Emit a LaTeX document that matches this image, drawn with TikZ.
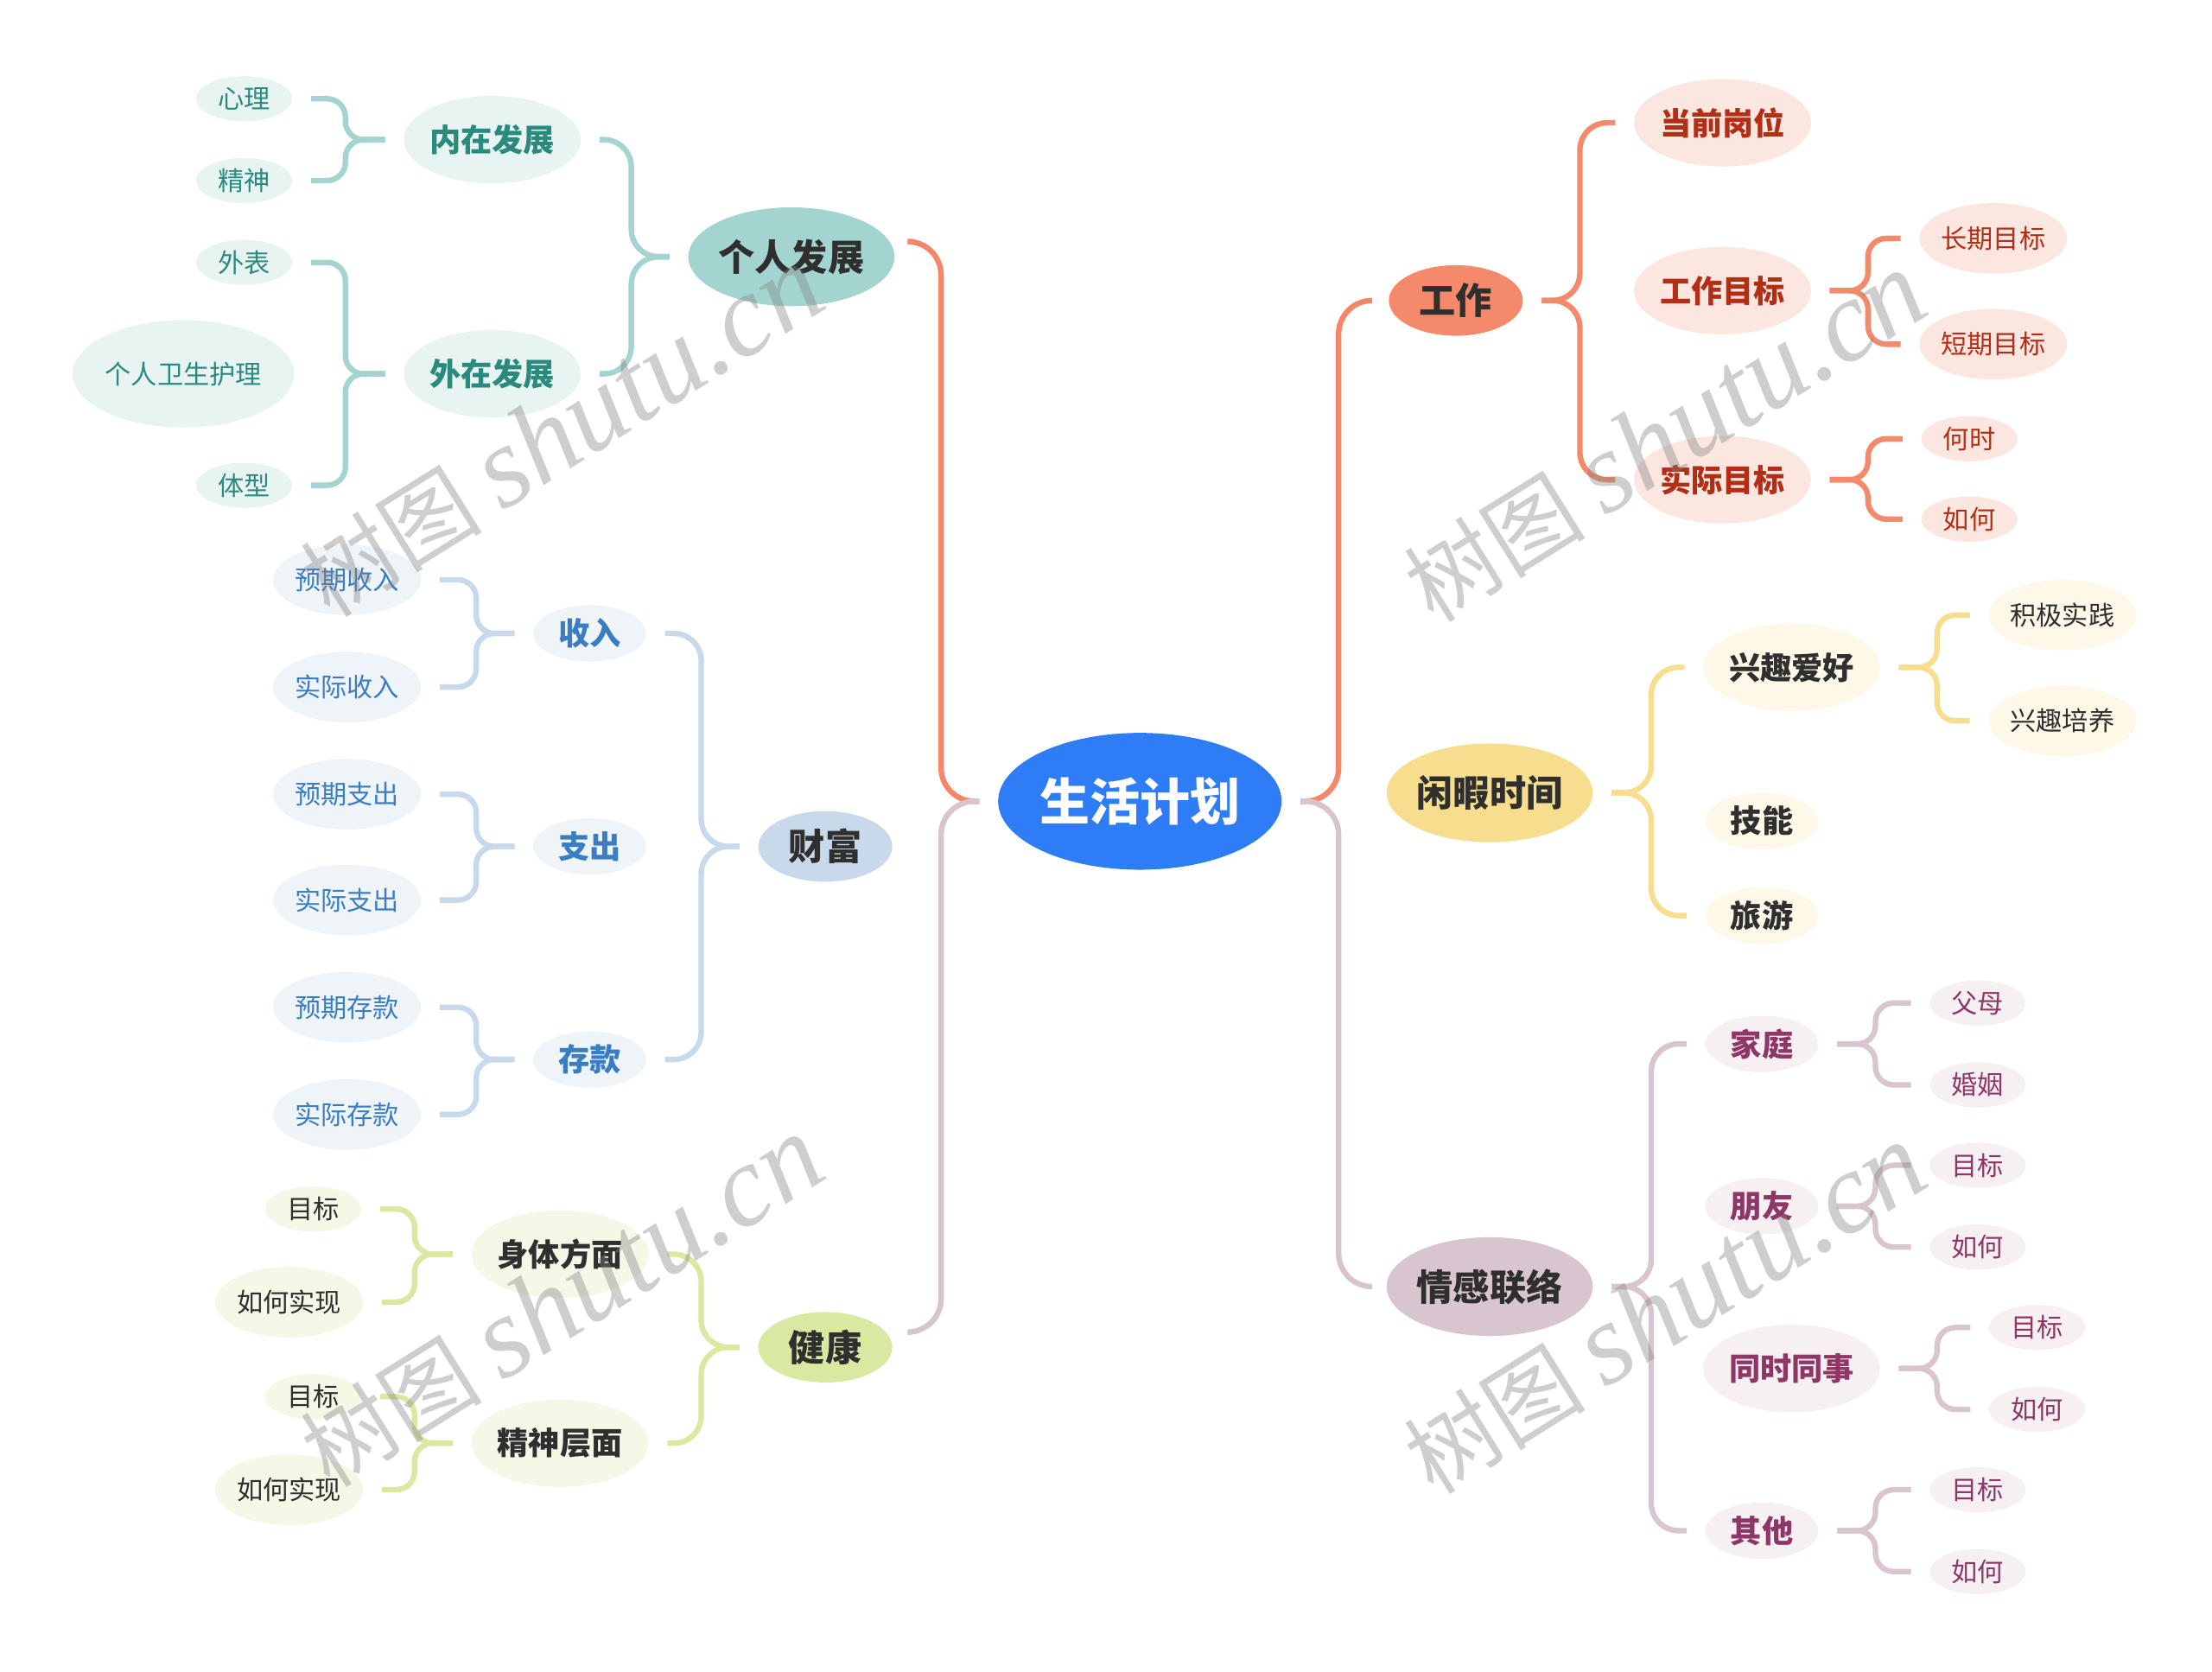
\documentclass[tikz,border=0pt]{standalone}
\usepackage{fontspec}
\setmainfont{Noto Sans CJK SC}
\newfontfamily\wmfont{Liberation Serif}
\usepackage{tikz}
\usetikzlibrary{shapes.geometric}
\definecolor{rootBlue}{HTML}{2F7DF6}
\definecolor{lineUp}{HTML}{F5866A}
\definecolor{lineDown}{HTML}{D7C5CD}
\definecolor{darkText}{HTML}{2F2F2F}
\definecolor{tealNode}{HTML}{A4D4CF}
\definecolor{tealSoft}{HTML}{E8F4F2}
\definecolor{tealText}{HTML}{2B8A7E}
\definecolor{blueNode}{HTML}{C7D9EA}
\definecolor{blueSoft}{HTML}{EFF4F9}
\definecolor{blueText}{HTML}{3A7DC3}
\definecolor{greenNode}{HTML}{D9E9A1}
\definecolor{greenSoft}{HTML}{F4F8E6}
\definecolor{orgNode}{HTML}{F5896B}
\definecolor{orgSoft}{HTML}{FCE6E0}
\definecolor{orgText}{HTML}{B42E16}
\definecolor{yelNode}{HTML}{F6DE8E}
\definecolor{yelSoft}{HTML}{FDF8E8}
\definecolor{mauNode}{HTML}{D9C5CF}
\definecolor{mauSoft}{HTML}{F7F0F3}
\definecolor{mauText}{HTML}{8E3766}

\newcommand{\pxu}{0.016327cm}
\newcommand{\wmtext}{树图 {\wmfont\itshape\fontsize{38}{38}\selectfont shutu.cn}}

\tikzset{
  base/.style={ellipse, inner sep=0pt, align=center},
  sz/.style 2 args={minimum width=#1*\pxu, minimum height=#2*\pxu},
  rootnode/.style={base, sz={193}{97}, fill=rootBlue, text=white,
    font=\fontsize{16.5}{18}\selectfont\bfseries},
  topic/.style={base, text=darkText, font=\fontsize{12}{14}\selectfont\bfseries},
  subtopic/.style={base, font=\fontsize{10.3}{12}\selectfont\bfseries},
  leaf/.style={base, font=\fontsize{8.6}{10}\selectfont},
  trunk/.style={line width=1.8pt, rounded corners=11pt, shorten <=6pt, shorten >=6pt},
  bracea/.style={line width=1.8pt, rounded corners=9pt, shorten <=6pt, shorten >=6pt},
  braceb/.style={line width=1.8pt, rounded corners=6pt, shorten <=6pt, shorten >=6pt},
  wmark/.style={text=black!50, text opacity=0.38, rotate=32,
    font=\fontsize{30}{30}\selectfont}
}

\begin{document}
\begin{tikzpicture}[x=\pxu, y=-\pxu]
  \fill[white] (0,0) rectangle (1568,1185);
  \useasboundingbox (0,0) rectangle (1568,1185);

  % centre and first level
  \node[rootnode] (root) at (808,568) {生活计划};
  \node[topic, sz={142}{70}, fill=tealNode] (gr) at (561,182) {个人发展};
  \node[topic, sz={95}{50}, fill=blueNode] (cf) at (585,600) {财富};
  \node[topic, sz={95}{50}, fill=greenNode] (jk) at (585,955) {健康};
  \node[topic, sz={95}{50}, fill=orgNode] (gz) at (1032,213) {工作};
  \node[topic, sz={142}{70}, fill=yelNode] (xx) at (1056,562) {闲暇时间};
  \node[topic, sz={142}{70}, fill=mauNode] (qg) at (1056,912) {情感联络};

  \draw[trunk, lineUp] (root.west) -- ++(-40,0) |- ([yshift=5pt]gr.east);
  \draw[trunk, lineDown] (root.west) -- ++(-40,0) |- ([yshift=5pt]jk.east);
  \draw[trunk, lineUp] (root.east) -- ++(40,0) |- (gz.west);
  \draw[trunk, lineDown] (root.east) -- ++(40,0) |- (qg.west);

  % 个人发展
  \node[subtopic, sz={122}{62}, fill=tealSoft, text=tealText] (nz) at (349,99) {内在发展};
  \node[subtopic, sz={122}{62}, fill=tealSoft, text=tealText] (wz) at (349,265) {外在发展};
  \node[leaf, sz={68}{32}, fill=tealSoft, text=tealText] (xl) at (173,70) {心理};
  \node[leaf, sz={68}{32}, fill=tealSoft, text=tealText] (js) at (173,128) {精神};
  \node[leaf, sz={68}{32}, fill=tealSoft, text=tealText] (wb) at (173,186) {外表};
  \node[leaf, sz={152}{76}, fill=tealSoft, text=tealText] (gw) at (130,265) {个人卫生护理};
  \node[leaf, sz={68}{32}, fill=tealSoft, text=tealText] (tx) at (173,344) {体型};
  \draw[bracea, tealNode] (gr.west) -- ++(-40,0) |- (nz.east);
  \draw[bracea, tealNode] (gr.west) -- ++(-40,0) |- (wz.east);
  \draw[braceb, tealNode] (nz.west) -- ++(-41,0) |- (xl.east);
  \draw[braceb, tealNode] (nz.west) -- ++(-41,0) |- (js.east);
  \draw[braceb, tealNode] (wz.west) -- ++(-41,0) |- (wb.east);
  \draw[braceb, tealNode] (wz.west) -- ++(-41,0) |- (tx.east);

  % 财富
  \node[subtopic, sz={80}{40}, fill=blueSoft, text=blueText] (sr) at (418,449) {收入};
  \node[subtopic, sz={80}{40}, fill=blueSoft, text=blueText] (zc) at (418,600) {支出};
  \node[subtopic, sz={80}{40}, fill=blueSoft, text=blueText] (ck) at (418,751) {存款};
  \node[leaf, sz={102}{50}, fill=blueSoft, text=blueText] (yqsr) at (246,411) {预期收入};
  \node[leaf, sz={102}{50}, fill=blueSoft, text=blueText] (sjsr) at (246,487) {实际收入};
  \node[leaf, sz={102}{50}, fill=blueSoft, text=blueText] (yqzc) at (246,563) {预期支出};
  \node[leaf, sz={102}{50}, fill=blueSoft, text=blueText] (sjzc) at (246,638) {实际支出};
  \node[leaf, sz={102}{50}, fill=blueSoft, text=blueText] (yqck) at (246,714) {预期存款};
  \node[leaf, sz={102}{50}, fill=blueSoft, text=blueText] (sjck) at (246,790) {实际存款};
  \draw[bracea, blueNode] (cf.west) -- ++(-40,0) |- (sr.east);
  \draw[bracea, blueNode] (cf.west) -- ++(-40,0) |- (ck.east);
  \draw[braceb, blueNode] (sr.west) -- ++(-40,0) |- (yqsr.east);
  \draw[braceb, blueNode] (sr.west) -- ++(-40,0) |- (sjsr.east);
  \draw[braceb, blueNode] (zc.west) -- ++(-40,0) |- (yqzc.east);
  \draw[braceb, blueNode] (zc.west) -- ++(-40,0) |- (sjzc.east);
  \draw[braceb, blueNode] (ck.west) -- ++(-40,0) |- (yqck.east);
  \draw[braceb, blueNode] (ck.west) -- ++(-40,0) |- (sjck.east);

  % 健康
  \node[subtopic, sz={122}{62}, fill=greenSoft, text=darkText] (st) at (397,889) {身体方面};
  \node[subtopic, sz={122}{62}, fill=greenSoft, text=darkText] (jsc) at (397,1023) {精神层面};
  \node[leaf, sz={68}{32}, fill=greenSoft, text=darkText] (mba) at (222,857) {目标};
  \node[leaf, sz={104}{50}, fill=greenSoft, text=darkText] (rha) at (205,923) {如何实现};
  \node[leaf, sz={68}{32}, fill=greenSoft, text=darkText] (mbb) at (222,990) {目标};
  \node[leaf, sz={104}{50}, fill=greenSoft, text=darkText] (rhb) at (205,1056) {如何实现};
  \draw[bracea, greenNode] (jk.west) -- ++(-40,0) |- (st.east);
  \draw[bracea, greenNode] (jk.west) -- ++(-40,0) |- (jsc.east);
  \draw[braceb, greenNode] (st.west) -- ++(-40,0) |- (mba.east);
  \draw[braceb, greenNode] (st.west) -- ++(-40,0) |- (rha.east);
  \draw[braceb, greenNode] (jsc.west) -- ++(-40,0) |- (mbb.east);
  \draw[braceb, greenNode] (jsc.west) -- ++(-40,0) |- (rhb.east);

  % 工作
  \node[subtopic, sz={122}{62}, fill=orgSoft, text=orgText] (dq) at (1221,87) {当前岗位};
  \node[subtopic, sz={122}{62}, fill=orgSoft, text=orgText] (gm) at (1221,206) {工作目标};
  \node[subtopic, sz={122}{62}, fill=orgSoft, text=orgText] (sm) at (1221,340) {实际目标};
  \node[leaf, sz={102}{50}, fill=orgSoft, text=orgText] (cq) at (1413,169) {长期目标};
  \node[leaf, sz={102}{50}, fill=orgSoft, text=orgText] (dm) at (1413,244) {短期目标};
  \node[leaf, sz={68}{32}, fill=orgSoft, text=orgText] (hs) at (1396,311) {何时};
  \node[leaf, sz={68}{32}, fill=orgSoft, text=orgText] (rhc) at (1396,368) {如何};
  \draw[bracea, orgNode] (gz.east) -- ++(40,0) |- (dq.west);
  \draw[bracea, orgNode] (gz.east) -- ++(40,0) |- (sm.west);
  \draw[braceb, orgNode] (gm.east) -- ++(40,0) |- (cq.west);
  \draw[braceb, orgNode] (gm.east) -- ++(40,0) |- (dm.west);
  \draw[braceb, orgNode] (sm.east) -- ++(40,0) |- (hs.west);
  \draw[braceb, orgNode] (sm.east) -- ++(40,0) |- (rhc.west);

  % 闲暇时间
  \node[subtopic, sz={122}{62}, fill=yelSoft, text=darkText] (xq) at (1270,473) {兴趣爱好};
  \node[subtopic, sz={80}{40}, fill=yelSoft, text=darkText] (jn) at (1249,582) {技能};
  \node[subtopic, sz={80}{40}, fill=yelSoft, text=darkText] (ly) at (1249,649) {旅游};
  \node[leaf, sz={102}{50}, fill=yelSoft, text=darkText] (jj) at (1462,436) {积极实践};
  \node[leaf, sz={102}{50}, fill=yelSoft, text=darkText] (pyang) at (1462,511) {兴趣培养};
  \draw[bracea, yelNode] (xx.east) -- ++(41,0) |- (xq.west);
  \draw[bracea, yelNode] (xx.east) -- ++(41,0) |- (ly.west);
  \draw[braceb, yelNode] (xq.east) -- ++(40,0) |- (jj.west);
  \draw[braceb, yelNode] (xq.east) -- ++(40,0) |- (pyang.west);

  % 情感联络
  \node[subtopic, sz={80}{40}, fill=mauSoft, text=mauText] (jt) at (1249,740) {家庭};
  \node[subtopic, sz={80}{40}, fill=mauSoft, text=mauText] (py) at (1249,855) {朋友};
  \node[subtopic, sz={122}{62}, fill=mauSoft, text=mauText] (ts) at (1270,970) {同时同事};
  \node[subtopic, sz={80}{40}, fill=mauSoft, text=mauText] (qt) at (1249,1085) {其他};
  \node[leaf, sz={68}{32}, fill=mauSoft, text=mauText] (fm) at (1402,711) {父母};
  \node[leaf, sz={68}{32}, fill=mauSoft, text=mauText] (hy) at (1402,769) {婚姻};
  \node[leaf, sz={68}{32}, fill=mauSoft, text=mauText] (mbc) at (1402,826) {目标};
  \node[leaf, sz={68}{32}, fill=mauSoft, text=mauText] (rhd) at (1402,884) {如何};
  \node[leaf, sz={68}{32}, fill=mauSoft, text=mauText] (mbd) at (1444,941) {目标};
  \node[leaf, sz={68}{32}, fill=mauSoft, text=mauText] (rhe) at (1444,999) {如何};
  \node[leaf, sz={68}{32}, fill=mauSoft, text=mauText] (mbe) at (1402,1056) {目标};
  \node[leaf, sz={68}{32}, fill=mauSoft, text=mauText] (rhf) at (1402,1114) {如何};
  \draw[bracea, mauNode] (qg.east) -- ++(41,0) |- (jt.west);
  \draw[bracea, mauNode] (qg.east) -- ++(41,0) |- (qt.west);
  \draw[braceb, mauNode] (jt.east) -- ++(40,0) |- (fm.west);
  \draw[braceb, mauNode] (jt.east) -- ++(40,0) |- (hy.west);
  \draw[braceb, mauNode] (py.east) -- ++(40,0) |- (mbc.west);
  \draw[braceb, mauNode] (py.east) -- ++(40,0) |- (rhd.west);
  \draw[braceb, mauNode] (ts.east) -- ++(40,0) |- (mbd.west);
  \draw[braceb, mauNode] (ts.east) -- ++(40,0) |- (rhe.west);
  \draw[braceb, mauNode] (qt.east) -- ++(40,0) |- (mbe.west);
  \draw[braceb, mauNode] (qt.east) -- ++(40,0) |- (rhf.west);

  % watermarks
  \node[wmark] (wma) at (398,306) {\wmtext};
  \node[wmark] (wmb) at (1180,310) {\wmtext};
  \node[wmark] (wmc) at (398,923) {\wmtext};
  \node[wmark] (wmd) at (1180,928) {\wmtext};
\end{tikzpicture}
\end{document}
